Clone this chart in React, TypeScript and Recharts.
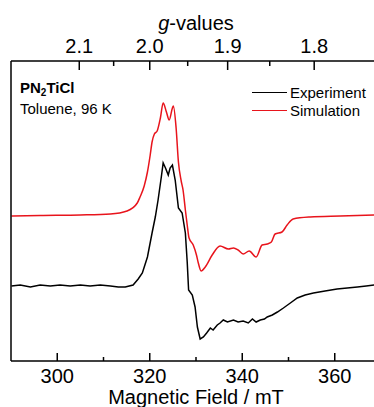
import { Line, LineChart, XAxis, YAxis } from 'recharts';

// magnetic field (mT) and intensity (arb. units)
const expField = [
	290.1, 292.0, 294.2, 296.3, 298.5, 300.6, 302.8, 305.0, 307.1, 309.3, 311.5, 313.2, 314.7,
	316.4, 317.5, 318.4, 319.5, 320.5, 321.2, 321.8, 322.5, 322.9, 323.4, 324.0, 324.4, 324.9,
	325.5, 326.2, 327.0, 327.7, 328.1, 328.4, 329.2, 329.8, 330.3, 330.9, 331.6, 332.3, 333.1,
	333.7, 334.6, 335.2, 335.9, 336.8, 338.1, 339.1, 340.2, 341.3, 342.2, 343.0, 343.9, 344.8,
	345.4, 346.5, 347.6, 348.9, 350.4, 351.9, 353.6, 355.4, 357.9, 360.5, 362.7, 364.9, 366.8,
	368.5,
];
const expIntensity = [
	75, 76, 74, 76, 75, 76, 75, 76, 75, 76, 75, 74, 74, 76, 82, 88, 104, 128, 144, 161, 184, 198,
	193, 186, 193, 196, 181, 153, 148, 128, 99, 71, 66, 54, 34, 22, 24, 28, 33, 31, 36, 38, 41, 39,
	41, 39, 40, 38, 42, 39, 41, 42, 44, 46, 49, 53, 58, 63, 66, 68, 70, 72, 73, 74, 75, 76,
];

const simField = [
	290.1, 296.3, 305.0, 311.5, 315.1, 317.3, 317.9, 318.8, 319.5, 320.1, 320.5, 321.0, 321.6,
	322.3, 322.9, 323.6, 324.2, 324.9, 325.1, 325.7, 326.2, 326.8, 327.2, 327.7, 328.1, 328.5,
	329.4, 330.1, 330.5, 331.1, 332.0, 333.5, 335.2, 337.0, 338.1, 339.1, 340.2, 341.5, 343.0,
	344.3, 345.4, 346.3, 347.1, 348.6, 349.7, 351.0, 354.7, 361.2, 368.5,
];
const simIntensity = [
	145, 145.5, 146, 147, 150, 158, 164, 175, 189, 206, 219, 227, 230, 243, 258, 249, 241, 253,
	255, 233, 199, 180, 171, 151, 136, 123, 116, 106, 98, 90, 94, 106, 115, 112, 113, 111, 107,
	110, 104, 116, 117, 119, 127, 129, 136, 142, 144, 145, 146,
];

const fieldTicks = [300, 310, 320, 330, 340, 350, 360];
const gTicks = [2.1, 2.05, 2.0, 1.95, 1.9, 1.85, 1.8];
const hvOverMuB = 640; // mT, g = hv / (muB * B)

const seriesNames = ['Experiment', 'Simulation'];
const seriesColors = ['#000000', '#e8141c'];

const expData = expField.map((x, i) => ({ x, y: expIntensity[i] }));
const simData = simField.map((x, i) => ({ x, y: simIntensity[i] }));
const gFieldTicks = gTicks.map((g) => hvOverMuB / g);

const font = '"Liberation Sans", Arial, sans-serif';

const BottomTick = (props: any) => {
	const { x, y, payload } = props;
	const major = payload.value % 20 === 0;
	return (
		<g>
			<line x1={x} x2={x} y1={y} y2={y - (major ? 8 : 4)} stroke="#000" strokeWidth={1.5} />
			{major && (
				<text x={x} y={y + 22} textAnchor="middle" fontSize={20} fontFamily={font} fill="#000">
					{payload.value}
				</text>
			)}
		</g>
	);
};

const TopTick = (props: any) => {
	const { x, y, payload } = props;
	const g = hvOverMuB / payload.value;
	const major = Math.abs(g * 10 - Math.round(g * 10)) < 0.01;
	return (
		<g>
			<line x1={x} x2={x} y1={y} y2={y + (major ? 9 : 5)} stroke="#000" strokeWidth={1.5} />
			{major && (
				<text x={x} y={y - 8} textAnchor="middle" fontSize={20} fontFamily={font} fill="#000">
					{g.toFixed(1)}
				</text>
			)}
		</g>
	);
};

export default function App() {
	return (
		<div
			style={{
				position: 'absolute',
				left: 0,
				top: 0,
				width: 374,
				height: 407,
				overflow: 'hidden',
				background: '#fff',
				fontFamily: font,
			}}
		>
			<LineChart width={384} height={407} margin={{ top: 0, right: 3, bottom: 0, left: 0 }}>
				<XAxis
					xAxisId="bottom"
					dataKey="x"
					type="number"
					domain={[290, 370]}
					ticks={fieldTicks}
					orientation="bottom"
					height={46}
					tickSize={0}
					tickMargin={0}
					tickLine={false}
					tick={<BottomTick />}
					axisLine={{ stroke: '#000', strokeWidth: 1.5 }}
					interval={0}
				/>
				<XAxis
					xAxisId="top"
					dataKey="x"
					type="number"
					domain={[290, 370]}
					ticks={gFieldTicks}
					orientation="top"
					height={61}
					tickSize={0}
					tickMargin={0}
					tickLine={false}
					tick={<TopTick />}
					axisLine={{ stroke: '#000', strokeWidth: 1.5 }}
					interval={0}
				/>
				<YAxis
					type="number"
					domain={[0, 300]}
					width={11}
					tick={false}
					tickLine={false}
					axisLine={{ stroke: '#000', strokeWidth: 1.5 }}
				/>
				<Line
					xAxisId="bottom"
					data={expData}
					dataKey="y"
					name={seriesNames[0]}
					type="linear"
					stroke={seriesColors[0]}
					strokeWidth={1.5}
					dot={false}
					isAnimationActive={false}
				/>
				<Line
					xAxisId="top"
					data={simData}
					dataKey="y"
					name={seriesNames[1]}
					type="monotone"
					stroke={seriesColors[1]}
					strokeWidth={1.5}
					dot={false}
					isAnimationActive={false}
				/>
			</LineChart>
			<div style={{ position: 'absolute', left: 252, top: 83, fontSize: 15, color: '#000' }}>
				{seriesNames.map((name, i) => (
					<div key={name} style={{ display: 'flex', alignItems: 'center', height: 18.5 }}>
						<span
							style={{
								display: 'inline-block',
								width: 35,
								borderTop: `1.5px solid ${seriesColors[i]}`,
								marginRight: 3,
							}}
						/>
						<span>{name}</span>
					</div>
				))}
			</div>
			<div
				style={{
					position: 'absolute',
					left: 0,
					width: 392,
					top: 13,
					textAlign: 'center',
					fontSize: 20,
					lineHeight: '20px',
				}}
			>
				<i>g</i>-values
			</div>
			<div
				style={{
					position: 'absolute',
					left: 0,
					width: 392,
					top: 387,
					textAlign: 'center',
					fontSize: 20,
					lineHeight: '20px',
				}}
			>
				Magnetic Field / mT
			</div>
			<div
				style={{
					position: 'absolute',
					left: 20,
					top: 80,
					fontSize: 15,
					lineHeight: '15px',
					fontWeight: 'bold',
				}}
			>
				PN<sub style={{ fontSize: 10, verticalAlign: -3, lineHeight: 0 }}>2</sub>TiCl
			</div>
			<div style={{ position: 'absolute', left: 20, top: 101, fontSize: 15, lineHeight: '15px' }}>
				Toluene, 96 K
			</div>
		</div>
	);
}
